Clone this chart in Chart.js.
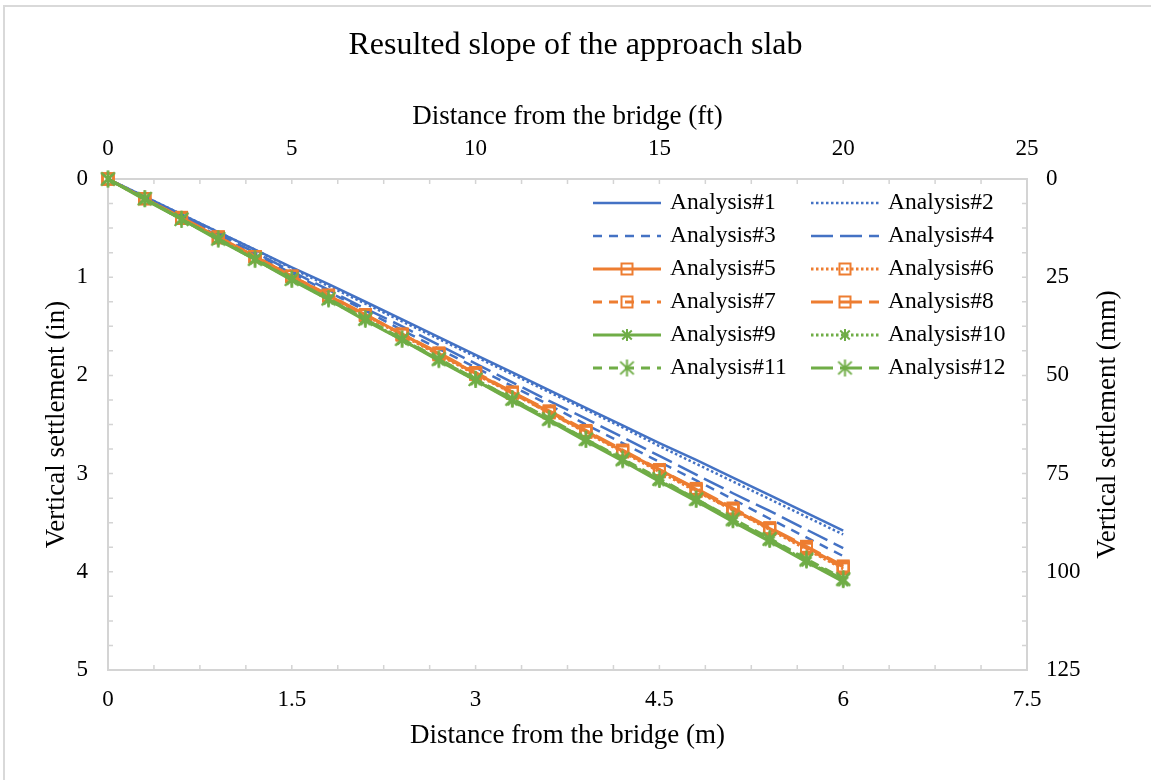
<!DOCTYPE html>
<html>
<head>
<meta charset="utf-8">
<title>Resulted slope of the approach slab</title>
<script src="https://cdn.jsdelivr.net/npm/chart.js@4.4.1/dist/chart.umd.min.js"></script>
<style>
    html, body { margin: 0; padding: 0; background: #fff; }
    #wrap { width: 1151px; height: 780px; }
</style>
</head>
<body>
<div id="wrap"><canvas id="slopeChart" width="1151" height="780"></canvas></div>
<script>
// ----------------------------
// DATA
// ----------------------------
// distance from the bridge (m)
const distM = [0, 0.3, 0.6, 0.9, 1.2, 1.5, 1.8, 2.1, 2.4, 2.7, 3.0, 3.3, 3.6, 3.9, 4.2, 4.5, 4.8, 5.1, 5.4, 5.7, 6.0];

// vertical settlement (in)
const analysis1  = [0, 0.18, 0.36, 0.54, 0.72, 0.90, 1.07, 1.25, 1.43, 1.61, 1.79, 1.97, 2.15, 2.33, 2.51, 2.69, 2.86, 3.04, 3.22, 3.40, 3.58];
const analysis2  = [0, 0.18, 0.36, 0.54, 0.72, 0.91, 1.09, 1.27, 1.45, 1.63, 1.81, 1.99, 2.17, 2.35, 2.53, 2.72, 2.90, 3.08, 3.26, 3.44, 3.62];
const analysis3  = [0, 0.19, 0.38, 0.58, 0.77, 0.96, 1.15, 1.34, 1.54, 1.73, 1.92, 2.11, 2.30, 2.50, 2.69, 2.88, 3.07, 3.26, 3.46, 3.65, 3.84];
const analysis4  = [0, 0.19, 0.38, 0.56, 0.75, 0.94, 1.13, 1.32, 1.50, 1.69, 1.88, 2.07, 2.26, 2.44, 2.63, 2.82, 3.01, 3.20, 3.38, 3.57, 3.76];
const analysis5  = [0, 0.20, 0.40, 0.59, 0.79, 0.99, 1.19, 1.38, 1.58, 1.78, 1.98, 2.17, 2.37, 2.57, 2.77, 2.96, 3.16, 3.36, 3.56, 3.75, 3.95];
const analysis6  = [0, 0.20, 0.40, 0.60, 0.79, 0.99, 1.19, 1.39, 1.59, 1.79, 1.99, 2.18, 2.38, 2.58, 2.78, 2.98, 3.18, 3.37, 3.57, 3.77, 3.97];
const analysis7  = [0, 0.20, 0.40, 0.59, 0.79, 0.99, 1.19, 1.39, 1.58, 1.78, 1.98, 2.18, 2.38, 2.57, 2.77, 2.97, 3.17, 3.37, 3.56, 3.76, 3.96];
const analysis8  = [0, 0.20, 0.39, 0.59, 0.79, 0.99, 1.18, 1.38, 1.58, 1.77, 1.97, 2.17, 2.36, 2.56, 2.76, 2.96, 3.15, 3.35, 3.55, 3.74, 3.94];
const analysis9  = [0, 0.21, 0.41, 0.62, 0.82, 1.03, 1.23, 1.44, 1.64, 1.85, 2.05, 2.26, 2.46, 2.67, 2.87, 3.08, 3.28, 3.49, 3.69, 3.90, 4.10];
const analysis10 = [0, 0.20, 0.41, 0.61, 0.82, 1.02, 1.23, 1.43, 1.64, 1.84, 2.05, 2.25, 2.45, 2.66, 2.86, 3.07, 3.27, 3.48, 3.68, 3.89, 4.09];
const analysis11 = [0, 0.20, 0.41, 0.61, 0.81, 1.02, 1.22, 1.42, 1.63, 1.83, 2.04, 2.24, 2.44, 2.65, 2.85, 3.05, 3.26, 3.46, 3.66, 3.87, 4.07];
const analysis12 = [0, 0.20, 0.41, 0.61, 0.82, 1.02, 1.22, 1.43, 1.63, 1.84, 2.04, 2.24, 2.45, 2.65, 2.86, 3.06, 3.26, 3.47, 3.67, 3.88, 4.08];

const seriesNames = ["Analysis#1", "Analysis#2", "Analysis#3", "Analysis#4", "Analysis#5", "Analysis#6",
                     "Analysis#7", "Analysis#8", "Analysis#9", "Analysis#10", "Analysis#11", "Analysis#12"];
const seriesValues = [analysis1, analysis2, analysis3, analysis4, analysis5, analysis6,
                      analysis7, analysis8, analysis9, analysis10, analysis11, analysis12];

// labelled ticks
const mLabels  = [0, 1.5, 3, 4.5, 6, 7.5];
const ftLabels = [0, 5, 10, 15, 20, 25];
const inLabels = [0, 1, 2, 3, 4, 5];
const mmLabels = [0, 25, 50, 75, 100, 125];

// ----------------------------
// STYLES
// ----------------------------
const FONT = '"Times New Roman", "Liberation Serif", serif';
const blue = "#4472C4", orange = "#ED7D31", green = "#70AD47";
const axisGrey = "#d4d4d4";

function makeSquare(size, color){
    const c = document.createElement("canvas");
    c.width = size + 2; c.height = size + 2;
    const g = c.getContext("2d");
    g.strokeStyle = color; g.lineWidth = 2;
    g.strokeRect(2, 2, size - 2, size - 2);
    return c;
}

function makeStar(size, color){
    const c = document.createElement("canvas");
    c.width = size + 2; c.height = size + 2;
    const g = c.getContext("2d");
    const m = (size + 2) / 2, r = size / 2;
    g.strokeStyle = color; g.lineWidth = 2;
    g.beginPath();
    g.moveTo(m, m - r); g.lineTo(m, m + r);
    g.moveTo(m - r * 0.8, m - r * 0.75); g.lineTo(m + r * 0.8, m + r * 0.75);
    g.moveTo(m + r * 0.8, m - r * 0.75); g.lineTo(m - r * 0.8, m + r * 0.75);
    g.stroke();
    return c;
}

const seriesStyles = [
    { color: blue,   width: 2.5, dash: [] },
    { color: blue,   width: 2.5, dash: [2.5, 2.5] },
    { color: blue,   width: 2.5, dash: [9, 7] },
    { color: blue,   width: 2.5, dash: [22, 7] },
    { color: orange, width: 3, dash: [],         marker: makeSquare(13, orange) },
    { color: orange, width: 3, dash: [2.5, 2.5], marker: makeSquare(13, orange) },
    { color: orange, width: 3, dash: [9, 7],     marker: makeSquare(13, orange) },
    { color: orange, width: 3, dash: [22, 7],    marker: makeSquare(13, orange) },
    { color: green,  width: 3, dash: [],         marker: makeStar(12, green) },
    { color: green,  width: 3, dash: [2.5, 2.5], marker: makeStar(12, green) },
    { color: green,  width: 3, dash: [9, 7],     marker: makeStar(17, green) },
    { color: green,  width: 3, dash: [22, 7],    marker: makeStar(17, green) }
];

const datasets = seriesValues.map((vals, i) => ({
    label: seriesNames[i],
    data: distM.map((x, j) => ({ x: x, y: vals[j] })),
    xAxisID: "x",
    yAxisID: "y",
    borderColor: seriesStyles[i].color,
    backgroundColor: seriesStyles[i].color,
    borderWidth: seriesStyles[i].width,
    borderDash: seriesStyles[i].dash,
    pointStyle: seriesStyles[i].marker || "circle",
    pointRadius: seriesStyles[i].marker ? 6 : 0,
    pointHoverRadius: seriesStyles[i].marker ? 6 : 0,
    tension: 0,
    clip: false,
    order: 12 - i
}));

// ----------------------------
// PLUGINS
// ----------------------------
const chartFrame = {
    id: "chartFrame",
    beforeDraw(chart){
        const ctx = chart.ctx;
        ctx.save();
        ctx.fillStyle = "#fff";
        ctx.fillRect(0, 0, chart.width, chart.height);
        ctx.strokeStyle = "#d9d9d9";
        ctx.lineWidth = 2;
        ctx.strokeRect(4, 6, chart.width + 10, chart.height + 10);
        ctx.restore();
    }
};

const innerTicks = {
    id: "innerTicks",
    beforeDatasetsDraw(chart){
        const ctx = chart.ctx, a = chart.chartArea, len = 5;
        ctx.save();
        ctx.strokeStyle = axisGrey;
        ctx.lineWidth = 1.5;
        ctx.beginPath();
        chart.scales.x.ticks.forEach(t => {
            const p = chart.scales.x.getPixelForValue(t.value);
            ctx.moveTo(p, a.bottom); ctx.lineTo(p, a.bottom - len);
        });
        chart.scales.x2.ticks.forEach(t => {
            const p = chart.scales.x2.getPixelForValue(t.value);
            ctx.moveTo(p, a.top); ctx.lineTo(p, a.top + len);
        });
        chart.scales.y.ticks.forEach(t => {
            const p = chart.scales.y.getPixelForValue(t.value);
            ctx.moveTo(a.left, p); ctx.lineTo(a.left + len, p);
        });
        chart.scales.y2.ticks.forEach(t => {
            const p = chart.scales.y2.getPixelForValue(t.value);
            ctx.moveTo(a.right, p); ctx.lineTo(a.right - len, p);
        });
        ctx.stroke();
        ctx.restore();
    }
};

// right axis title reads bottom-to-top like the left one
const rightTitle = {
    id: "rightTitle",
    afterDraw(chart){
        const ctx = chart.ctx, a = chart.chartArea;
        ctx.save();
        ctx.translate(1108, (a.top + a.bottom) / 2);
        ctx.rotate(-Math.PI / 2);
        ctx.fillStyle = "#000";
        ctx.font = "27px " + FONT;
        ctx.textAlign = "center";
        ctx.textBaseline = "middle";
        ctx.fillText("Vertical settlement (mm)", 0, 0);
        ctx.restore();
    }
};

const insideLegend = {
    id: "insideLegend",
    afterDraw(chart){
        const ctx = chart.ctx;
        const cols = [593, 811], top = 203, rowH = 33, lineLen = 68;
        ctx.save();
        chart.data.datasets.forEach((ds, i) => {
            const x0 = cols[i % 2], y = top + Math.floor(i / 2) * rowH;
            ctx.strokeStyle = ds.borderColor;
            ctx.lineWidth = ds.borderWidth;
            ctx.setLineDash(ds.borderDash);
            ctx.beginPath();
            ctx.moveTo(x0, y); ctx.lineTo(x0 + lineLen, y);
            ctx.stroke();
            ctx.setLineDash([]);
            if(ds.pointStyle instanceof HTMLCanvasElement){
                const img = ds.pointStyle;
                ctx.drawImage(img, x0 + lineLen / 2 - img.width / 2, y - img.height / 2);
            }
            ctx.fillStyle = "#000";
            ctx.font = "23.5px " + FONT;
            ctx.textBaseline = "middle";
            ctx.textAlign = "left";
            ctx.fillText(ds.label, x0 + lineLen + 9, y);
        });
        ctx.restore();
    }
};

// ----------------------------
// CHART
// ----------------------------
function onList(list){
    return v => list.some(l => Math.abs(l - v) < 1e-6) ? String(v) : "";
}

const tickFont = { family: FONT, size: 23 };
const titleFont = { family: FONT, size: 27 };
const titlePad = { top: 26, bottom: 5 };

const ctx = document.getElementById("slopeChart").getContext("2d");
const chart = new Chart(ctx, {
    type: "line",
    data: { datasets: datasets },
    options: {
        responsive: false,
        animation: false,
        layout: { padding: 0 },
        plugins: {
            legend: { display: false },
            tooltip: { enabled: false },
            title: {
                display: true,
                text: "Resulted slope of the approach slab",
                color: "#000",
                font: { family: FONT, size: 32, weight: "normal" },
                padding: titlePad
            }
        },
        scales: {
            x: {
                type: "linear", position: "bottom",
                min: 0, max: 7.5,
                grid: { display: false },
                border: { color: axisGrey, width: 2 },
                ticks: { stepSize: 0.375, autoSkip: false, maxRotation: 0, padding: 8, color: "#000", font: tickFont, callback: onList(mLabels) },
                title: { display: true, text: "Distance from the bridge (m)", color: "#000", font: titleFont, padding: { top: 0, bottom: 28 } },
                afterFit(s){ s.height = 110; }
            },
            x2: {
                type: "linear", position: "top",
                min: 0, max: 25,
                grid: { display: false },
                border: { color: axisGrey, width: 2 },
                ticks: { stepSize: 1.25, autoSkip: false, maxRotation: 0, padding: 8, color: "#000", font: tickFont, callback: onList(ftLabels) },
                title: { display: true, text: "Distance from the bridge (ft)", color: "#000", font: titleFont, padding: { top: 31, bottom: 0 } },
                afterFit(s){ s.height = 179 - (titlePad.top + 32 * 1.2 + titlePad.bottom); }
            },
            y: {
                type: "linear", position: "left", reverse: true,
                min: 0, max: 5,
                grid: { display: false },
                border: { color: axisGrey, width: 2 },
                ticks: { stepSize: 0.25, autoSkip: false, padding: 12, color: "#000", font: tickFont, callback: onList(inLabels) },
                title: { display: true, text: "Vertical settlement (in)", color: "#000", font: titleFont, padding: { top: 41, bottom: 0 } },
                afterFit(s){ s.width = 108; }
            },
            y2: {
                type: "linear", position: "right", reverse: true,
                min: 0, max: 125,
                grid: { display: false },
                border: { color: axisGrey, width: 2 },
                ticks: { stepSize: 6.25, autoSkip: false, padding: 11, color: "#000", font: tickFont, callback: onList(mmLabels) },
                title: { display: false },
                afterFit(s){ s.width = 1151 - 1027; }
            }
        }
    },
    plugins: [chartFrame, innerTicks, rightTitle, insideLegend]
});
</script>
</body>
</html>
